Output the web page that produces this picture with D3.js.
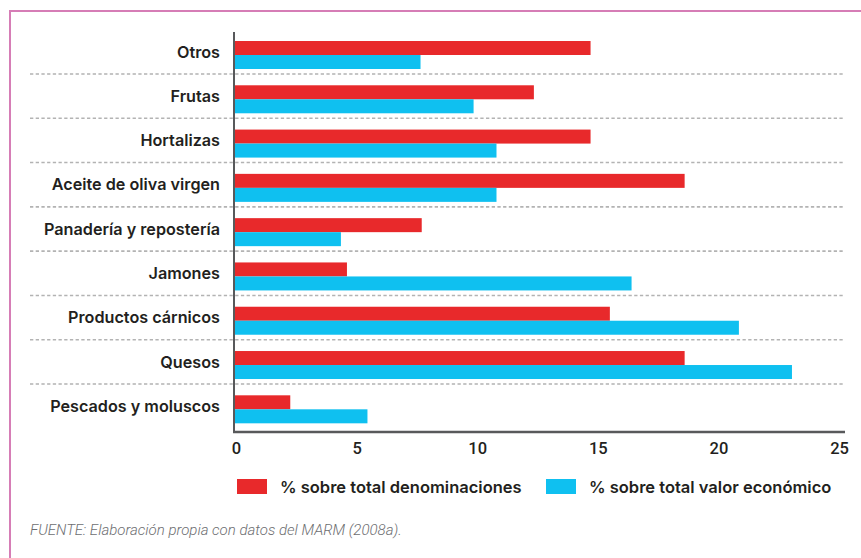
<!DOCTYPE html>
<html>
<head>
<meta charset="utf-8">
<script src="https://cdn.jsdelivr.net/npm/d3@7"></script>
<style>
  body { margin: 0; background: #fff; }
  svg { display: block; }
  .label { font-family: Inter, "Open Sans", sans-serif; font-weight: 600; font-size: 16.2px; fill: #231f20; }
  .tick text { font-family: Roboto, sans-serif; font-weight: 500; font-size: 16.5px; fill: #231f20; }
  .legend text { font-family: Inter, sans-serif; font-weight: 600; font-size: 16.5px; fill: #231f20; }
  .source { font-family: Roboto, sans-serif; font-weight: 300; font-style: italic; font-size: 15px; fill: #6d6e71; }
</style>
</head>
<body>
<div id="chart"></div>
<script>
// Categories, top to bottom
var categories = ["Otros", "Frutas", "Hortalizas", "Aceite de oliva virgen",
  "Panadería y repostería", "Jamones", "Productos cárnicos", "Quesos", "Pescados y moluscos"];

// % sobre total denominaciones
var denominaciones = [14.7, 12.35, 14.7, 18.6, 7.7, 4.6, 15.5, 18.6, 2.25];
// % sobre total valor económico
var valorEconomico = [7.65, 9.85, 10.8, 10.8, 4.35, 16.4, 20.85, 23.05, 5.45];

var xTicks = [0, 5, 10, 15, 20, 25];
var seriesNames = ["% sobre total denominaciones", "% sobre total valor económico"];
var colors = ["#e8292b", "#0fc0f0"];
var source = "FUENTE: Elaboración propia con datos del MARM (2008a).";

var width = 861, height = 558;

var svg = d3.select("#chart").append("svg")
    .attr("width", width)
    .attr("height", height);

// Pink frame (runs off the right and bottom edges)
svg.append("path")
    .attr("d", "M10,600 L10,11 L900,11")
    .attr("fill", "none")
    .attr("stroke", "#d67db6")
    .attr("stroke-width", 2);

// Scales
var x = d3.scaleLinear()
    .domain([0, 25])
    .range([236, 839]);

var y = d3.scaleBand()
    .domain(categories)
    .range([29.7, 428.3]);

// Dotted separators between rows
svg.selectAll(".sep")
    .data(categories.slice(1))
    .enter().append("line")
    .attr("class", "sep")
    .attr("x1", 30)
    .attr("x2", 843)
    .attr("y1", function(d) { return y(d); })
    .attr("y2", function(d) { return y(d); })
    .attr("stroke", "#b3b3b3")
    .attr("stroke-width", 1.6)
    .attr("stroke-dasharray", "3.3,2.4");

var rows = categories.map(function(c, i) {
    return {cat: c, a: denominaciones[i], b: valorEconomico[i]};
});

// Red bars
svg.selectAll(".barA")
    .data(rows)
    .enter().append("rect")
    .attr("class", "barA")
    .attr("x", x(0) - 1)
    .attr("y", function(d) { return y(d.cat) + 11.3; })
    .attr("width", function(d) { return x(d.a) - x(0) + 1; })
    .attr("height", 14)
    .attr("fill", colors[0]);

// Blue bars
svg.selectAll(".barB")
    .data(rows)
    .enter().append("rect")
    .attr("class", "barB")
    .attr("x", x(0) - 1)
    .attr("y", function(d) { return y(d.cat) + 25.3; })
    .attr("width", function(d) { return x(d.b) - x(0) + 1; })
    .attr("height", 14)
    .attr("fill", colors[1]);

// Category labels
svg.selectAll(".label")
    .data(categories)
    .enter().append("text")
    .attr("class", "label")
    .attr("text-anchor", "end")
    .attr("x", 220)
    .attr("y", function(d) { return y(d) + y.bandwidth() / 2; })
    .attr("dy", "0.35em")
    .text(function(d) { return d; });

// Vertical axis line
svg.append("line")
    .attr("x1", 234).attr("x2", 234)
    .attr("y1", 32).attr("y2", 433)
    .attr("stroke", "#58595b")
    .attr("stroke-width", 2);

// x-axis
var xAxis = svg.append("g")
    .attr("class", "x axis")
    .attr("transform", "translate(0,432)")
    .call(d3.axisBottom(x).tickValues(xTicks).tickSize(0).tickPadding(10));

xAxis.select(".domain")
    .attr("d", "M233," + 0 + "H845")
    .attr("stroke", "#58595b")
    .attr("stroke-width", 2.4);

// Legend
var legend = svg.append("g").attr("class", "legend");
var legendX = [237, 546];
seriesNames.forEach(function(name, i) {
    legend.append("rect")
        .attr("x", legendX[i])
        .attr("y", 479)
        .attr("width", 30)
        .attr("height", 15)
        .attr("fill", colors[i]);
    legend.append("text")
        .attr("x", legendX[i] + 43)
        .attr("y", 487)
        .attr("dy", "0.35em")
        .text(name);
});

// Source note
svg.append("text")
    .attr("class", "source")
    .attr("x", 30)
    .attr("y", 535)
    .text(source);
</script>
</body>
</html>
